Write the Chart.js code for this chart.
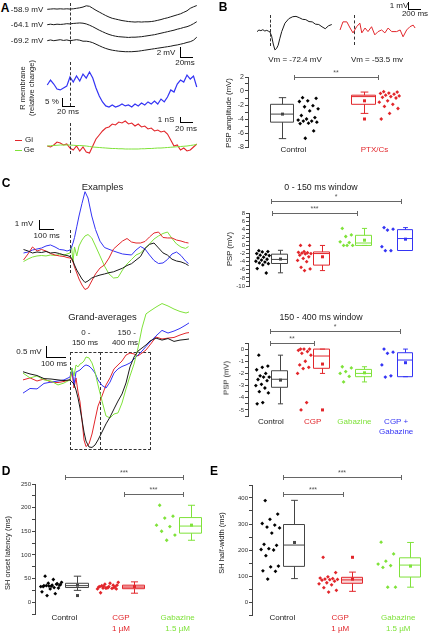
<!DOCTYPE html>
<html>
<head>
<meta charset="utf-8">
<script src="https://cdn.jsdelivr.net/npm/chart.js@4.4.1/dist/chart.umd.min.js"></script>
<style>
  body { margin: 0; background: #fff; }
  #fig { position: relative; width: 430px; height: 633px; overflow: hidden;
         font-family: "Liberation Sans", Arial, sans-serif; color: #222; }
  #fig canvas { position: absolute; }
  .t { position: absolute; white-space: nowrap; transform: translate(-50%, -50%);
       font-size: 8px; line-height: 1.15; text-align: center; }
  .letter { font-weight: bold; font-size: 12px; color: #000; }
  .ln { position: absolute; }
</style>
</head>
<body>
<div id="fig"></div>
<script>
/*
 * Data
**/

// Panel A: time (ms from stimulus) and responses
const aTime = [-35,-30,-25,-20,-15,-10,-5,0,5,10,15,20,25,30,35,40,45,50,55,60,65,70,75,80,85,90,95,100,105,110,115,120,125,130,135,140,145,150,155,160,165,170,175,180,185,190,195]
const aHolding = ['-58.9 mV', '-64.1 mV', '-69.2 mV']
const aTrace1 = [0,0.05,0.1,0.05,0.1,0.05,0.1,0.05,0.1,0.2,0.3,0.45,0.7,0.6,0.2,-0.2,-0.55,-0.9,-1.25,-1.55,-1.8,-1.95,-2.1,-2.25,-2.35,-2.45,-2.5,-2.55,-2.5,-2.55,-2.5,-2.5,-2.45,-2.35,-2.2,-2.05,-1.85,-1.7,-1.5,-1.3,-1.1,-0.9,-0.6,-0.3,0.2,0.5,0.75]
const aTrace2 = [0,0.1,0,0.1,0.05,0.1,0.2,0.15,0.25,0.3,0.35,0.3,0.15,-0.1,-0.4,-0.75,-1.1,-1.4,-1.7,-1.95,-2.15,-2.3,-2.4,-2.45,-2.5,-2.55,-2.5,-2.5,-2.45,-2.4,-2.3,-2.2,-2.1,-2.0,-1.85,-1.7,-1.55,-1.4,-1.25,-1.1,-0.9,-0.75,-0.55,-0.4,-0.15,0.2,0.6]
const aTrace3 = [0,0.15,0,0.1,0.2,0.05,0.15,0,0.1,0.2,0.1,-0.1,-0.1,-0.2,-0.4,-0.7,-1.0,-1.3,-1.55,-1.75,-1.9,-2.0,-2.1,-2.15,-2.2,-2.2,-2.2,-2.15,-2.1,-2.0,-1.9,-1.8,-1.7,-1.6,-1.5,-1.4,-1.3,-1.2,-1.1,-0.95,-0.85,-0.7,-0.55,-0.35,-0.2,0.1,0.7]
const aRmem = [1.9,5,2.5,-0.6,-1.2,0,1.2,6.9,3.7,7.5,4.4,8.7,6.2,10,6.2,0,-5,-8.7,-11.2,-11.9,-10.6,-11.9,-11.2,-10,-11.2,-10.6,-11.9,-10,-11.2,-9.4,-10.6,-8.7,-10,-8.1,-10,-6.9,-8.7,-5.6,-1.2,-2.5,2.5,5,3.7,8.1,5.6,7.5,0.6]
const aGi = [0.2,0,0.4,1.0,0.8,0.4,0.6,-0.2,-0.6,0.2,-0.8,0,-1.0,-1.2,0.2,1.6,2.4,3.2,3.8,4.0,4.6,4.4,5.0,4.8,5.2,4.6,4.8,4.2,4.6,4.0,4.2,3.6,3.8,3.2,3.4,3.0,3.2,2.6,1.4,0.2,0.4,-0.6,-0.2,-0.8,-0.6,0,0.6]
const aGe = [0.2,0.25,0.3,0.35,0.4,0.4,0.4,0.4,0.35,0.3,0.3,0.25,0.2,0.1,0,-0.05,-0.1,-0.15,-0.2,-0.25,-0.3,-0.3,-0.35,-0.35,-0.4,-0.4,-0.4,-0.4,-0.4,-0.35,-0.35,-0.3,-0.3,-0.25,-0.2,-0.2,-0.15,-0.1,-0.05,0,0.05,0.1,0.15,0.2,0.3,0.4,0.5]

// Panel B: example PSPs and amplitudes
const bBlackTime = [-200,-170,-140,-110,-80,-50,-20,0,25,50,75,100,125,150,180,230,290,350,400,450,500,550,600,650,700,750,800,850,900,950]
const bBlack = [-0.1,0.15,0.05,0.2,0,0.1,-0.05,-0.15,-0.8,-2.0,-2.9,-2.7,-2.2,-1.2,-0.1,1.2,1.9,2.2,2.25,2.05,1.8,1.75,1.45,1.4,1.05,1.0,0.65,0.35,0.8,1.0]
const bRedTime = [-215,-170,-110,-60,-15,40,90,120,170,215,270,320,370,425,475,525,580,655,710,755,810,860,910,940]
const bRed = [-0.15,1.1,1.1,0.15,-0.6,0.35,0.9,-0.6,0.15,-0.4,0.35,-0.9,-0.4,-0.15,-0.6,0.15,-0.4,-0.4,-0.15,-1.2,-0.15,0.35,0.6,0.15]
const bVm = ['Vm = -72.4 mV', 'Vm = -53.5 mv']
const bGroups = [['Control'], ['PTX/Cs']]
const bCtrl = [-0.95,-1.05,-1.4,-1.5,-2.1,-2.25,-2.55,-2.85,-3.5,-3.8,-4.0,-4.15,-4.3,-4.3,-4.45,-4.6,-4.65,-5.7,-6.75]
const bCtrlBox = [-6.8,-4.45,-3.3,-1.9,-0.95]
const bPtx = [-0.1,-0.15,-0.3,-0.35,-0.45,-0.6,-0.7,-0.8,-0.9,-1.0,-1.4,-1.6,-1.9,-2.2,-2.5,-3.2,-4.0]
const bPtxBox = [-3.2,-1.9,-0.8,-0.6,-0.15]
const bMeans = [-3.3, -1.4]
const bPtxOut = [-4.0]

// Panel C: example and grand-average traces
const cExTime = [-310,-280,-250,-220,-190,-160,-130,-100,-70,-40,-20,0,10,20,30,45,60,80,100,120,145,170,200,230,260,290,320,350,380,410,440,470,500,530,560,590,620,650,680,710,740,770,790]
const cExBlack = [0.28,0.11,-0.11,0,-0.06,0.06,-0.11,-0.06,-0.17,-0.33,-0.39,-0.5,-0.67,-1.0,-1.44,-2.0,-2.44,-3.0,-3.39,-3.22,-2.89,-2.72,-2.56,-2.44,-2.3,-2.2,-2.0,-1.8,-1.5,-1.3,-0.9,-0.5,0.4,0.85,1.0,0.45,-0.1,-0.35,-0.8,-1.0,-1.1,-1.3,-1.5]
const cExRed = [-0.89,-0.22,0.56,0.11,0.28,0.11,-0.17,-0.33,-0.44,-0.5,-0.61,-0.67,-0.78,-1.11,-1.67,-2.33,-3.0,-3.67,-4.17,-4.0,-3.22,-2.44,-1.78,-1.44,-0.67,0.33,0.78,1.22,1.5,1.11,1.0,1.0,1.17,1.67,2.11,2.22,1.61,1.56,1.56,1.33,1.22,1.06,1.0]
const cExBlue = [-0.11,0,0.22,0.33,0.44,0.67,0.78,0.56,0.28,0.22,0.11,0.22,0.5,1.0,1.6,2.8,4.0,5.4,6.7,6.0,4.0,2.5,1.2,0.5,0.3,0.11,-0.06,-0.22,-0.28,-0.33,0.22,0.61,0.33,-0.33,-0.94,-1.28,-1.22,-0.83,-0.22,0,-0.39,-1.0,-1.28]
const cExGreen = [-1.06,-0.78,-0.56,-0.44,-0.39,-0.44,-0.33,-0.39,-0.28,-0.33,-0.22,-0.11,0.67,-1.11,0.56,-0.44,0.67,1.33,1.78,1.94,1.56,0.67,-0.44,-1.56,-2.44,-2.89,-2.83,-2.0,-1.33,-0.83,-0.33,-0.11,0.39,0.89,1.44,1.78,2.06,2.22,1.5,0.9,0.55,0.4,0.6]

const cAvgTime = [-235,-200,-165,-130,-95,-60,-30,0,10,20,30,40,50,60,70,80,95,110,125,140,160,180,200,220,240,260,280,300,320,340,360,380,400,430,460,490,520,550,580,595]
const cAvgBlack = [0.42,0.32,0.25,0.11,0.09,0.05,0.02,0.05,-0.05,-0.14,-0.41,-0.77,-1.23,-1.77,-2.32,-2.73,-3.0,-3.02,-2.91,-2.68,-2.32,-1.95,-1.64,-1.27,-0.91,-0.59,-0.09,0.64,1.09,1.36,1.5,1.64,1.82,1.95,1.86,1.93,1.8,1.86,1.89,1.91]
const cAvgRed = [0.05,0.14,0,0.09,-0.05,-0.07,-0.02,0.05,0.41,-0.32,0.14,-0.5,-0.95,-1.77,-2.68,-2.98,-2.86,-2.41,-1.77,-1.14,-0.68,-0.18,0.14,0.55,0.73,0.91,1.18,1.27,1.23,1.14,1.27,1.41,1.64,2.0,1.91,1.95,1.98,2.09,2.18,2.2]
const cAvgGreen = [0.36,0.14,0.23,0.05,0,-0.18,-0.09,0.05,0.59,0.23,0.73,0.64,0.77,0.82,0.91,1.09,1.05,0.82,0.41,-0.18,-0.91,-1.59,-1.68,-1.5,-1.45,-1.0,-0.36,0.23,0.77,1.5,2.41,3.05,3.18,3.36,3.52,3.41,3.27,3.16,3.09,3.14]
const cAvgBlue = [-0.55,-0.34,-0.36,-0.11,-0.05,0,0.05,0.18,0.59,-0.18,0.41,0.45,0.5,0.59,0.68,0.73,0.68,0.55,0.36,0.05,-0.2,-0.32,-0.05,0.36,0.55,0.66,0.73,0.82,1.0,1.18,1.36,1.57,1.77,2.05,2.3,2.18,2.27,2.39,2.55,2.64]

// Panel C: PSP per window (box = [min, q1, median, q3, max])
const cGroups = [['Control'], ['CGP'], ['Gabazine'], ['CGP +', 'Gabazine']]
const c1Ctrl = [-1.3,-1.5,-1.6,-2.0,-2.2,-2.4,-2.5,-2.9,-3.1,-3.4,-3.6,-3.9,-4.1,-4.3,-4.5,-4.8,-5.7,-6.8]
const c1Cgp = [0,0,-1.5,-1.7,-1.8,-1.9,-2.0,-2.1,-2.4,-2.8,-3.2,-3.7,-4.0,-5.4,-5.8,-6.2]
const c1Gab = [4.2,2.6,2.2,0.9,0.7,0,0,0]
const c1Both = [4.4,4.0,3.8,-0.3,-1.3,-1.3]
const c1Boxes = [[-6.75,-4.45,-3.45,-2.15,-1.2], [-6.2,-4.85,-2.0,-1.6,0], [0,0,0.6,2.5,4.2], [-1.25,-1.25,1.7,3.9,4.4]]
const c1Means = [-3.35, -2.8, 1.3, 1.55]

const c2Ctrl = [-0.5,-1.4,-1.5,-1.7,-2.0,-2.2,-2.3,-2.3,-2.5,-2.6,-2.9,-3.0,-3.2,-3.5,-3.6,-4.4,-4.5]
const c2Cgp = [0,0,0,-0.1,-0.2,-0.35,-0.5,-1.0,-1.3,-1.5,-1.6,-2.0,-4.4,-5.0]
const c2Gab = [-1.45,-1.55,-1.85,-2.0,-2.25,-2.7]
const c2Both = [0,-0.25,-0.35,-1.3,-2.2,-2.3]
const c2Boxes = [[-4.5,-3.14,-2.48,-1.78,-0.5], [-2.0,-1.58,-0.57,0,0], [-2.7,-2.27,-2.0,-1.67,-1.45], [-2.27,-2.27,-0.9,-0.3,0]]
const c2Means = [-2.55, -1.23, -1.95, -1.12]
const c2CgpOut = [-5.0]

// Panel D: SH onset latency (ms)
const shGroups = [['Control'], ['CGP', '1 µM'], ['Gabazine', '1.5 µM']]
const dCtrl = [35,36,34,33,38,40,42,48,55,30,28,22,18,14,37,36,35,39,34,33,31]
const dCgp = [30,28,31,33,36,38,42,40,35,33,30,32,29,34,36,33,20,31,30,28]
const dGab = [205,182,178,163,160,150,142,131]
const dBoxes = [[25,31,35,40,55], [19,28.5,32,36,43], [131,146,161,179,205]]
const dMeans = [36, 33, 163]
const dCtrlOut = [14]

// Panel E: SH half-width (ms)
const eCtrl = [390,338,318,302,296,288,285,265,222,218,205,202,200,178,138,135,120,118,88]
const eCgp = [172,113,97,92,90,88,87,86,84,80,74,70,66,55,45,38]
const eGab = [230,185,157,146,140,133,57,57]
const eBoxes = [[90,137,219,298,391], [41,72,85,95,115], [57,96,142,170,229]]
const eMeans = [229, 88, 138]
const eCgpOut = [172]

/*
 * Helpers
**/
const BLACK = '#1a1a1a'
const GREY = '#444'
const RED = '#e2262b'
const GREEN = '#7fe23a'
const BLUE = '#3434f4'
const fig = document.getElementById('fig')
Chart.defaults.font.family = "'Liberation Sans', Arial, sans-serif"

function canvasAt(left, top, width, height) {
  const c = document.createElement('canvas')
  c.width = width
  c.height = height
  c.style.left = left + 'px'
  c.style.top = top + 'px'
  fig.appendChild(c)
  return c
}

function txt(s, x, y, opts = {}) {
  const d = document.createElement('div')
  d.className = 't' + (opts.cls ? ' ' + opts.cls : '')
  d.innerHTML = Array.isArray(s) ? s.join('<br>') : s
  d.style.left = x + 'px'
  d.style.top = y + 'px'
  if (opts.size) d.style.fontSize = opts.size + 'px'
  if (opts.color) d.style.color = opts.color
  if (opts.rot) d.style.transform = 'translate(-50%,-50%) rotate(-90deg)'
  fig.appendChild(d)
}

function hline(x1, x2, y, color = '#000', style = 'solid') {
  const d = document.createElement('div')
  d.className = 'ln'
  Object.assign(d.style, { left: x1 + 'px', top: y + 'px', width: (x2 - x1) + 'px', height: '0', borderTop: `1px ${style} ${color}` })
  fig.appendChild(d)
}

function vline(x, y1, y2, color = '#000', style = 'solid') {
  const d = document.createElement('div')
  d.className = 'ln'
  Object.assign(d.style, { left: x + 'px', top: y1 + 'px', width: '0', height: (y2 - y1) + 'px', borderLeft: `1px ${style} ${color}` })
  fig.appendChild(d)
}

function dashRect(x1, y1, x2, y2) {
  const d = document.createElement('div')
  d.className = 'ln'
  Object.assign(d.style, { left: x1 + 'px', top: y1 + 'px', width: (x2 - x1) + 'px', height: (y2 - y1) + 'px', border: '1px dashed #333', boxSizing: 'border-box' })
  fig.appendChild(d)
}

// L-shaped scale bar: vertical then horizontal
function scaleBar(x, yTop, yBot, xRight) {
  vline(x, yTop, yBot)
  hline(x, xRight, yBot)
}

function sigBar(x1, x2, y, stars) {
  hline(x1, x2, y, '#666')
  vline(x1, y - 2, y + 3, '#666')
  vline(x2, y - 2, y + 3, '#666')
  txt(stars, (x1 + x2) / 2, y - 4, { size: 7, color: '#555' })
}

// Trace chart: pixel placement given by zero point and px-per-unit
function traceChart(left, top, width, height, x0, kx, y0, ky, sets) {
  const c = canvasAt(left, top, width, height)
  return new Chart(c, {
    type: 'line',
    data: {
      datasets: sets.map(s => ({
        data: s.t.map((t, i) => ({ x: t, y: s.v[i] })),
        borderColor: s.color,
        borderWidth: s.w || 1,
        pointRadius: 0,
        tension: 0,
        fill: false
      }))
    },
    options: {
      responsive: false, animation: false, events: [],
      layout: { padding: 0 },
      plugins: { legend: { display: false }, tooltip: { enabled: false } },
      scales: {
        x: { type: 'linear', display: false, min: (left - x0) / kx, max: (left + width - x0) / kx },
        y: { display: false, min: (y0 - top - height) / ky, max: (y0 - top) / ky }
      }
    }
  })
}

const frac = i => (i * 0.6180339 + 0.27) % 1

function boxPlugin(groups, span) {
  return {
    id: 'boxes',
    afterDatasetsDraw(chart) {
      const { ctx, scales: { x, y } } = chart
      groups.forEach(g => {
        const [lo, q1, med, q3, hi] = g.box
        const xl = Math.round(x.getPixelForValue(g.pos + span[0])) + 0.5
        const xr = Math.round(x.getPixelForValue(g.pos + span[1])) + 0.5
        const xm = Math.round((xl + xr) / 2) + 0.5
        const cw = (xr - xl) * 0.16
        const py = v => y.getPixelForValue(v)
        ctx.save()
        if (g.fill) {
          ctx.globalAlpha = 0.18
          ctx.fillStyle = g.boxColor
          ctx.fillRect(xl, py(q3), xr - xl, py(q1) - py(q3))
          ctx.globalAlpha = 1
        }
        ctx.strokeStyle = g.boxColor
        ctx.lineWidth = 1
        ctx.beginPath()
        ctx.rect(xl, py(q3), xr - xl, py(q1) - py(q3))
        ctx.moveTo(xl, py(med)); ctx.lineTo(xr, py(med))
        ctx.moveTo(xm, py(q3)); ctx.lineTo(xm, py(hi))
        ctx.moveTo(xm, py(q1)); ctx.lineTo(xm, py(lo))
        ctx.moveTo(xm - cw, py(hi)); ctx.lineTo(xm + cw, py(hi))
        ctx.moveTo(xm - cw, py(lo)); ctx.lineTo(xm + cw, py(lo))
        ctx.stroke()
        ctx.fillStyle = g.boxColor
        ctx.fillRect(xm - 1.5, py(g.mean) - 1.5, 3, 3)
        ;(g.out || []).forEach(v => ctx.fillRect(xm - 1.5, py(v) - 1.5, 3, 3))
        ctx.restore()
      })
    }
  }
}

// Box + strip chart. Axis sits at left + 20.
function boxChart(cfg) {
  const { left, top, width, height, y, xr, groups, dotSpan, boxSpan, tickSize } = cfg
  const c = canvasAt(left, top, width, height)
  const datasets = groups.map(g => ({
    data: g.pts.map((v, i) => ({ x: g.pos + dotSpan[0] + (dotSpan[1] - dotSpan[0]) * frac(i), y: v })),
    pointStyle: 'rectRot',
    pointRadius: 1.9,
    backgroundColor: g.color,
    borderWidth: 0
  }))
  const chart = new Chart(c, {
    type: 'scatter',
    data: { datasets },
    options: {
      responsive: false, animation: false, events: [],
      layout: { padding: { top: 6, bottom: 6, left: 0, right: 0 } },
      plugins: { legend: { display: false }, tooltip: { enabled: false } },
      scales: {
        x: { type: 'linear', display: false, min: xr[0], max: xr[1] },
        y: {
          min: y.min, max: y.max,
          afterFit: s => { s.width = 20 },
          border: { color: GREY, width: 1 },
          grid: { drawOnChartArea: false, tickLength: 3, color: GREY },
          ticks: {
            stepSize: y.step, autoSkip: false, padding: 1, color: '#333',
            font: { size: tickSize || 6 },
            callback: v => Math.abs(v % y.every) < 1e-9 ? String(v) : ''
          }
        }
      }
    },
    plugins: [boxPlugin(groups, boxSpan)]
  })
  return chart
}

function groupLabels(chart, left, groups, y, step) {
  groups.forEach(g => {
    const x = left + chart.scales.x.getPixelForValue(g.pos)
    g.label.forEach((line, k) => txt(line, x, y + k * step, { color: g.labelColor }))
  })
}

/*
 * Panel A
**/
txt('A', 5, 8.5, { cls: 'letter' })
traceChart(40, 0, 160, 30, 70, 0.65, 9.3, 5, [{ t: aTime, v: aTrace1, color: BLACK }])
traceChart(40, 10, 160, 35, 70, 0.65, 24.7, 5, [{ t: aTime, v: aTrace2, color: BLACK }])
traceChart(40, 28, 160, 32, 70, 0.65, 40.7, 5, [{ t: aTime, v: aTrace3, color: BLACK }])
aHolding.forEach((s, i) => txt(s, 27, [9.5, 25, 41][i]))
vline(70, 3, 44, '#333', 'dashed')
scaleBar(180, 47, 57, 193)
txt('2 mV', 166, 53)
txt('20ms', 185, 63)

traceChart(40, 62, 160, 52, 70, 0.65, 88, 1.6, [{ t: aTime, v: aRmem, color: BLUE, w: 1.2 }])
txt(['R membrane', '(relative change)'], 27.5, 88, { rot: true, size: 7.5 })
vline(70, 62, 106, '#333', 'dashed')
scaleBar(62, 98, 106, 75)
txt('5 %', 52, 101.5)
txt('20 ms', 68, 112)

traceChart(40, 115, 160, 45, 70, 0.65, 147, 5, [
  { t: aTime, v: aGe, color: GREEN },
  { t: aTime, v: aGi, color: RED, w: 1.1 }
])
vline(70, 123, 154, '#333', 'dashed')
scaleBar(180, 117, 122, 193)
txt('1 nS', 166, 120)
txt('20 ms', 186, 128.5)
hline(15, 22, 140, RED)
hline(15, 22, 150, GREEN)
txt('Gi', 29, 140)
txt('Ge', 29, 150)

/*
 * Panel B
**/
txt('B', 223, 8, { cls: 'letter' })
traceChart(250, 8, 88, 47, 270, 0.065, 31, 6.5, [{ t: bBlackTime, v: bBlack, color: BLACK }])
traceChart(335, 8, 90, 47, 354, 0.065, 29, 6.5, [{ t: bRedTime, v: bRed, color: RED }])
vline(270, 15, 46, '#333', 'dashed')
vline(354, 15, 45, '#333', 'dashed')
scaleBar(408, 2, 9, 421)
txt('1 mV', 399, 5.5)
txt('200 ms', 415, 13.5)
txt(bVm[0], 295, 60)
txt(bVm[1], 377, 60)

const bBoxGroups = [
  { pos: 1, pts: bCtrl, box: bCtrlBox, mean: bMeans[0], color: '#000', boxColor: GREY, label: bGroups[0], labelColor: '#222' },
  { pos: 2, pts: bPtx, box: bPtxBox, mean: bMeans[1], out: bPtxOut, color: RED, boxColor: RED, label: bGroups[1], labelColor: RED }
]
const bChart = boxChart({
  left: 228, top: 71, width: 197, height: 82,
  y: { min: -8, max: 2, step: 1, every: 2 }, xr: [0.44, 2.573],
  groups: bBoxGroups, dotSpan: [0.04, 0.31], boxSpan: [-0.29, 0.0], tickSize: 7
})
groupLabels(bChart, 228, bBoxGroups, 150, 10)
txt('PSP amplitude (mV)', 228.5, 113, { rot: true, size: 7.7 })
sigBar(294, 378, 77, '**')

/*
 * Panel C: traces
**/
txt('C', 6, 184, { cls: 'letter' })
txt('Examples', 102.5, 187, { size: 9.5 })
traceChart(15, 185, 180, 115, 70, 0.15, 252, 9, [
  { t: cExTime, v: cExBlack, color: BLACK },
  { t: cExTime, v: cExRed, color: RED },
  { t: cExTime, v: cExBlue, color: BLUE },
  { t: cExTime, v: cExGreen, color: GREEN }
])
vline(70, 230, 273, '#333', 'dashed')
scaleBar(39, 220, 229, 54)
txt('1 mV', 24, 224)
txt('100 ms', 46.7, 236)

txt('Grand-averages', 102.5, 316.7, { size: 9.5 })
txt('0 -', 85.8, 333.3)
txt('150 ms', 85, 343.3)
txt('150 -', 126.7, 333.3)
txt('400 ms', 125, 343.3)
dashRect(70, 352, 101, 450)
dashRect(100, 352, 151, 450)
traceChart(15, 295, 180, 160, 70, 0.2, 381, 22, [
  { t: cAvgTime, v: cAvgBlack, color: BLACK },
  { t: cAvgTime, v: cAvgGreen, color: GREEN },
  { t: cAvgTime, v: cAvgBlue, color: BLUE },
  { t: cAvgTime, v: cAvgRed, color: RED }
])
scaleBar(46, 346, 357, 66)
txt('0.5 mV', 29, 352.3)
txt('100 ms', 54, 363.5)

/*
 * Panel C: PSP boxes
**/
const cColors = [['#000', GREY, '#222'], [RED, RED, RED], [GREEN, GREEN, GREEN], [BLUE, BLUE, BLUE]]
const makeC = (pts, boxes, means, outs) => pts.map((p, i) => ({
  pos: i + 1, pts: p, box: boxes[i], mean: means[i], out: outs[i],
  color: cColors[i][0], boxColor: cColors[i][1], label: cGroups[i], labelColor: cColors[i][2]
}))

txt('0 - 150 ms window', 321, 186.7, { size: 8.8 })
sigBar(271, 401, 201, '*')
sigBar(272, 357, 213, '***')
boxChart({
  left: 229, top: 207, width: 196, height: 85,
  y: { min: -10, max: 8, step: 1, every: 2 }, xr: [0.473, 4.595],
  groups: makeC([c1Ctrl, c1Cgp, c1Gab, c1Both], c1Boxes, c1Means, [[], [], [], []]),
  dotSpan: [-0.386, -0.035], boxSpan: [0.012, 0.386]
})
txt('PSP (mV)', 230, 249, { rot: true, size: 7.7 })

txt('150 - 400 ms window', 321, 317.3, { size: 8.8 })
sigBar(270, 400, 331, '*')
sigBar(270, 314, 343, '**')
const c2Groups = makeC([c2Ctrl, c2Cgp, c2Gab, c2Both], c2Boxes, c2Means, [[], c2CgpOut, [], []])
const c2Chart = boxChart({
  left: 228, top: 337, width: 197, height: 85,
  y: { min: -5.5, max: 0.5, step: 0.5, every: 1 }, xr: [0.45, 4.595],
  groups: c2Groups, dotSpan: [-0.386, -0.035], boxSpan: [0.012, 0.386]
})
groupLabels(c2Chart, 228, c2Groups, 421.7, 10)
txt('PSP (mV)', 227, 378, { rot: true, size: 7.7 })

/*
 * Panels D and E
**/
const shColors = [['#000', GREY, '#222'], [RED, RED, RED], [GREEN, GREEN, GREEN]]
const makeSH = (pts, boxes, means, outs) => pts.map((p, i) => ({
  pos: i + 1, pts: p, box: boxes[i], mean: means[i], out: outs[i], fill: i === 1,
  color: shColors[i][0], boxColor: shColors[i][1], label: shGroups[i], labelColor: shColors[i][2]
}))

txt('D', 6, 471.5, { cls: 'letter' })
sigBar(65, 183, 477, '***')
sigBar(124, 183, 494, '***')
const dGroups = makeSH([dCtrl, dCgp, dGab], dBoxes, dMeans, [dCtrlOut, [], []])
const dChart = boxChart({
  left: 15, top: 478, width: 195, height: 142,
  y: { min: -25, max: 250, step: 25, every: 50 }, xr: [0.483, 3.5],
  groups: dGroups, dotSpan: [-0.42, -0.04], boxSpan: [0.02, 0.41]
})
groupLabels(dChart, 15, dGroups, 618, 10.7)
txt('SH onset latency (ms)', 8.3, 553, { rot: true, size: 7.5 })

txt('E', 214, 471.5, { cls: 'letter' })
sigBar(283, 401, 477, '***')
sigBar(283, 343, 494, '***')
const eGroups = makeSH([eCtrl, eCgp, eGab], eBoxes, eMeans, [[], eCgpOut, []])
const eChart = boxChart({
  left: 232, top: 479, width: 196, height: 142,
  y: { min: -50, max: 450, step: 50, every: 100 }, xr: [0.477, 3.445],
  groups: eGroups, dotSpan: [-0.39, -0.04], boxSpan: [0.01, 0.38]
})
groupLabels(eChart, 232, eGroups, 618.3, 10.4)
txt('SH half-width (ms)', 221.7, 542.5, { rot: true, size: 7.5 })
</script>
</body>
</html>
